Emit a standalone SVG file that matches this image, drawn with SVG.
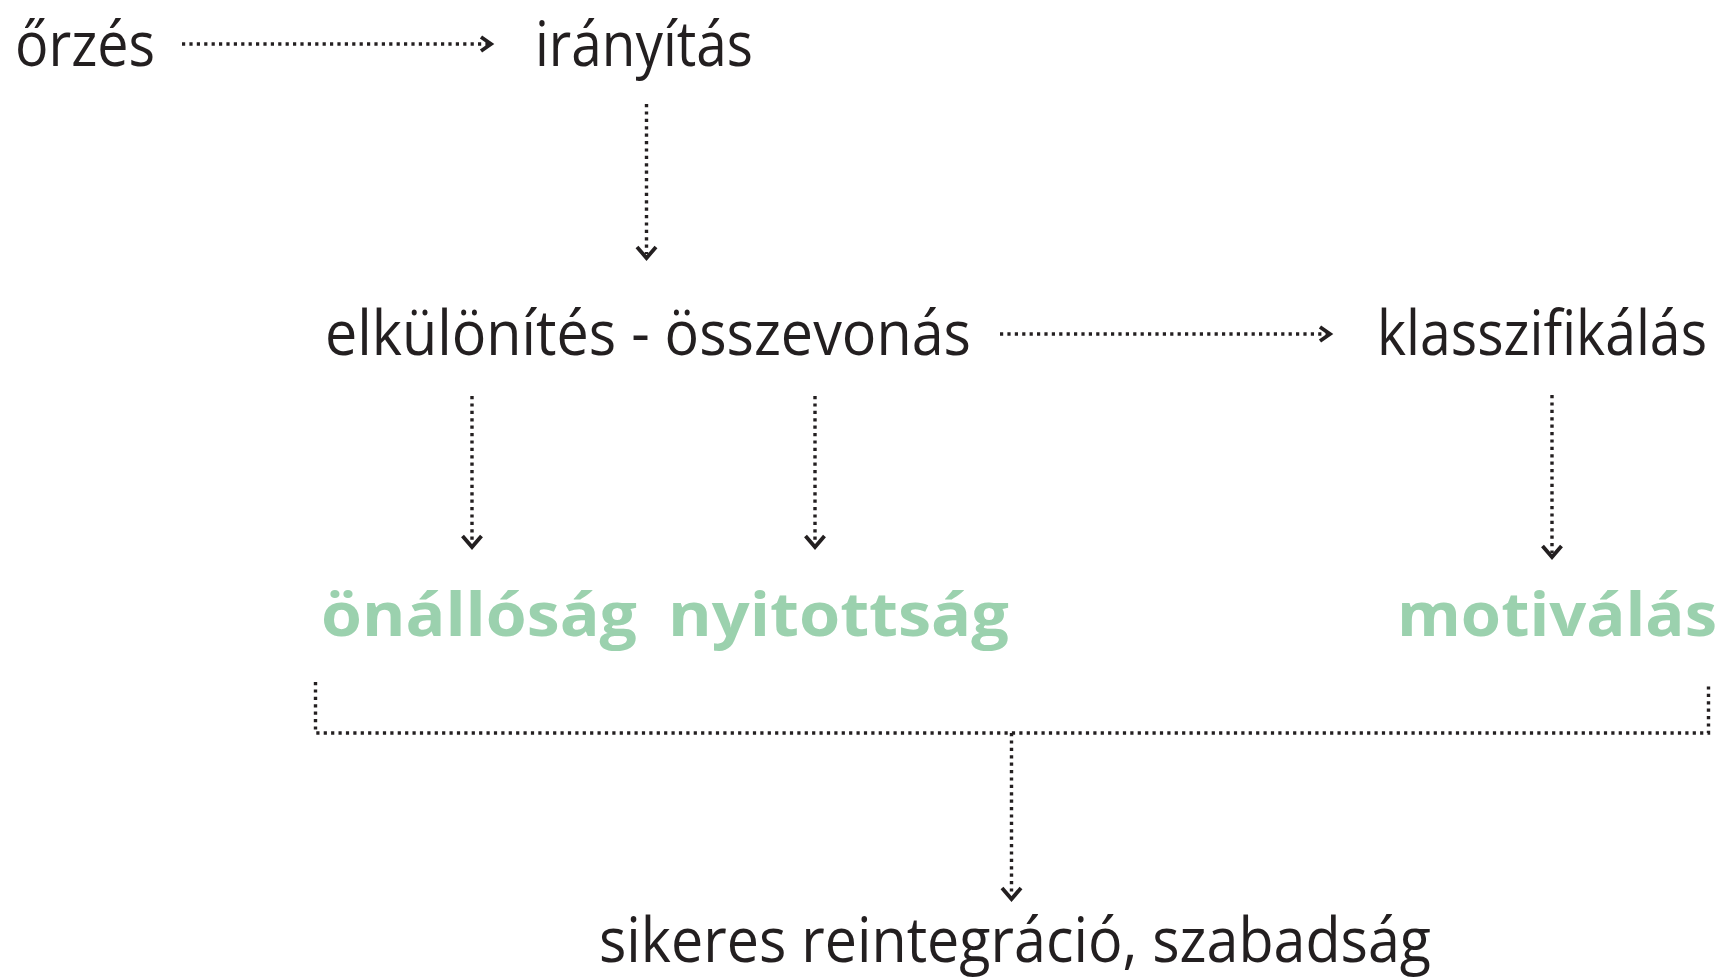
<svg xmlns="http://www.w3.org/2000/svg" width="1724" height="979" viewBox="0 0 1724 979">
<style>
.t{font-family:"Open Sans","Noto Sans","Liberation Sans",sans-serif;font-size:62px;fill:#231f20;font-weight:400}
.g{font-family:"Open Sans","Noto Sans","Liberation Sans",sans-serif;font-size:60px;fill:#9bd1ae;font-weight:700}
.d{fill:none;stroke:#231f20;stroke-width:3.4;stroke-dasharray:3.2 4.2}
.h{fill:none;stroke:#231f20;stroke-width:3.8;stroke-linejoin:miter}
</style>
<rect width="1724" height="979" fill="#ffffff"/>
<g id="connectors">
<line class="d" x1="182" y1="44" x2="488" y2="44"/>
<path class="h" d="M481,37 L491,44 L481,51"/>
<line class="d" x1="646.5" y1="104" x2="646.5" y2="254"/>
<path class="h" d="M637,247 L646.5,258 L656,247"/>
<line class="d" x1="1000" y1="334" x2="1327" y2="334"/>
<path class="h" d="M1320,327 L1330,334 L1320,341"/>
<line class="d" x1="472" y1="396" x2="472" y2="543"/>
<path class="h" d="M462.5,536 L472,547 L481.5,536"/>
<line class="d" x1="815" y1="396" x2="815" y2="543"/>
<path class="h" d="M805.5,536 L815,547 L824.5,536"/>
<line class="d" x1="1552" y1="395" x2="1552" y2="553"/>
<path class="h" d="M1542.5,546 L1552,557 L1561.5,546"/>
<polyline class="d" points="315.5,682 315.5,733 1708.5,733 1708.5,684"/>
<line class="d" x1="1011.5" y1="733" x2="1011.5" y2="895"/>
<path class="h" d="M1002,888 L1011.5,899 L1021,888"/>
</g>
<g id="n-orzes"><text class="t" x="15" y="66" textLength="140" lengthAdjust="spacingAndGlyphs">őrzés</text></g>
<g id="n-iranyitas"><text class="t" x="535" y="66" textLength="218" lengthAdjust="spacingAndGlyphs">irányítás</text></g>
<g id="n-elkulonites"><text class="t" x="325" y="355" textLength="646" lengthAdjust="spacingAndGlyphs">elkülönítés - összevonás</text></g>
<g id="n-klasszifikalas"><text class="t" transform="translate(1377,355) scale(0.8895,1)" x="0" y="0" textLength="371" lengthAdjust="spacingAndGlyphs">klasszifikálás</text></g>
<g id="n-onallosag"><text class="g" x="321" y="636" textLength="316" lengthAdjust="spacingAndGlyphs">önállóság</text></g>
<g id="n-nyitottsag"><text class="g" x="668" y="636" textLength="341" lengthAdjust="spacingAndGlyphs">nyitottság</text></g>
<g id="n-motivalas"><text class="g" x="1717" y="636" text-anchor="end" textLength="320" lengthAdjust="spacingAndGlyphs">motiválás</text></g>
<g id="n-sikeres"><text class="t" x="599" y="962" textLength="832" lengthAdjust="spacingAndGlyphs">sikeres reintegráció, szabadság</text></g>
</svg>
